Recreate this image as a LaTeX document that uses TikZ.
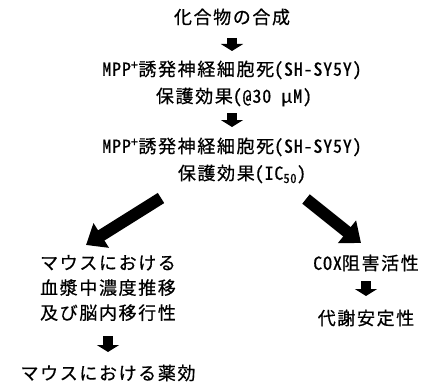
\documentclass[tikz,border=0pt]{standalone}
\usepackage{fontspec}
\setmainfont{Noto Sans CJK JP}[LetterSpace=9,FakeBold=0.6]
\newfontfamily\lat{Noto Sans CJK JP}[CharacterWidth=Half,LetterSpace=4.5,FakeBold=0.6]
\usetikzlibrary{arrows.meta}
\begin{document}
\begin{tikzpicture}[x=1pt,y=-1pt,
  lbl/.style={inner sep=0pt, font=\fontsize{18}{25}\selectfont, align=center},
  varrow/.style={line width=10.5pt, -{Triangle[width=22pt,length=7pt]}},
  darrow/.style={line width=12pt, -{Triangle[width=28pt,length=18pt]}}]
\useasboundingbox (0,0) rectangle (433,385);
\node[lbl] (n1) at (232,17) {化合物の合成};
\node[lbl] (n2) at (232,83.5) {{\lat MPP}\textsuperscript{+}誘発神経細胞死{\lat (SH-SY5Y)}\\[2pt]\hspace*{4pt}保護効果{\lat (@30 μM)}};
\node[lbl] (n3) at (232,160.5) {{\lat MPP}\textsuperscript{+}誘発神経細胞死{\lat (SH-SY5Y)}\\[2pt]\hspace*{20pt}保護効果{\lat (IC\textsubscript{50})}};
\node[lbl] (L) at (108,288) {マウスにおける\\血漿中濃度推移\\及び脳内移行性};
\node[lbl] (B) at (108,373) {マウスにおける薬効};
\node[lbl] (C) at (366,263) {{\lat COX}阻害活性};
\node[lbl] (D) at (366,318) {代謝安定性};
\coordinate (p1) at (161,198);
\coordinate (p2) at (86,245);
\coordinate (p3) at (306,199);
\coordinate (p4) at (361,243);
\draw[varrow, shorten <=21pt, shorten >=32.5pt] (n1.center) -- (n2.center);
\draw[varrow, shorten <=29.5pt, shorten >=33.5pt] (n2.center) -- (n3.center);
\draw[darrow] (p1) -- (p2);
\draw[darrow] (p3) -- (p4);
\draw[varrow, shorten <=48pt, shorten >=21pt] (L.center) -- (B.center);
\draw[varrow, shorten <=18pt, shorten >=22pt] (C.center) -- (D.center);
\end{tikzpicture}
\end{document}
